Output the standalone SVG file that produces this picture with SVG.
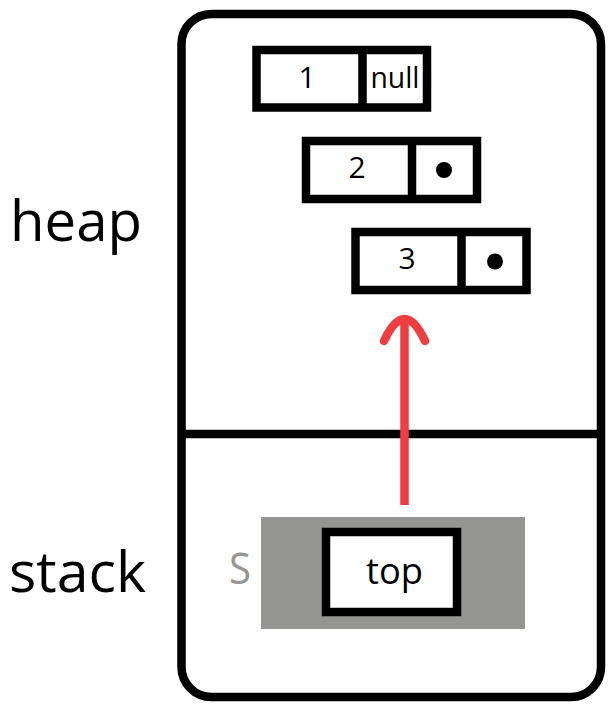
<svg xmlns="http://www.w3.org/2000/svg" width="614" height="714" viewBox="0 0 614 714">
<style>
.box{fill:#fff;stroke:#000;stroke-width:8.5}
.div{stroke:#000;stroke-width:8.5}
.t{font-family:"Open Sans","Noto Sans",sans-serif;fill:#000}
.nt{font-size:30px;text-anchor:middle}
.dot{fill:#000}
</style>
<rect width="614" height="714" fill="#fff"/>
<g id="frame">
<rect x="181.5" y="14" width="419.5" height="683" rx="30" ry="30" fill="#fff" stroke="#000" stroke-width="8.5"/>
<line x1="181.5" y1="434" x2="601" y2="434" class="div"/>
</g>
<text class="t" x="10" y="241" font-size="56" textLength="132" lengthAdjust="spacingAndGlyphs">heap</text>
<text class="t" x="9" y="592" font-size="57" textLength="137" lengthAdjust="spacingAndGlyphs">stack</text>
<g id="node1">
<rect class="box" x="256.5" y="50" width="170.5" height="57.5"/>
<line class="div" x1="362.5" y1="50" x2="362.5" y2="107.5"/>
<text class="t nt" x="307" y="88">1</text>
<text class="t nt" x="395" y="88" textLength="49" lengthAdjust="spacingAndGlyphs">null</text>
</g>
<g id="node2">
<rect class="box" x="306" y="141" width="171" height="58"/>
<line class="div" x1="412" y1="141" x2="412" y2="199"/>
<text class="t nt" x="357" y="178">2</text>
<circle class="dot" cx="444" cy="170" r="8"/>
</g>
<g id="node3">
<rect class="box" x="355.5" y="232" width="171" height="58"/>
<line class="div" x1="461.5" y1="232" x2="461.5" y2="290"/>
<text class="t nt" x="407" y="269">3</text>
<circle class="dot" cx="495" cy="261.5" r="8"/>
</g>
<g id="stackS">
<rect x="261" y="517" width="264" height="112" fill="#959593"/>
<text class="t" x="229" y="584" font-size="44" fill="#959593" style="fill:#959593" textLength="22" lengthAdjust="spacingAndGlyphs">S</text>
<rect class="box" x="326" y="532" width="131" height="80"/>
<text class="t" x="366" y="584" font-size="37" textLength="57" lengthAdjust="spacingAndGlyphs">top</text>
</g>
<g id="connectors">
<line x1="404.5" y1="505" x2="404.5" y2="320" stroke="#ef3e42" stroke-width="8.5"/>
<path d="M384,341 C391,326 398,319 404.5,319 C411,319 418,326 425,341" fill="none" stroke="#ef3e42" stroke-width="8.5" stroke-linecap="round"/>
</g>
</svg>
